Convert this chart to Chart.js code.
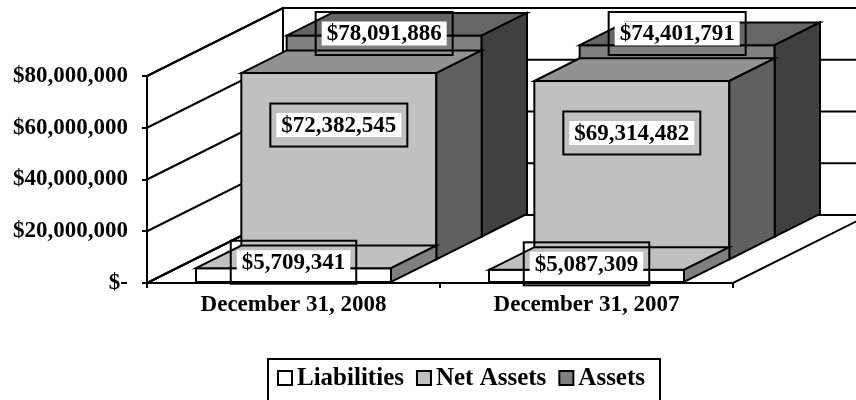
<!DOCTYPE html>
<html>
<head>
<meta charset="utf-8">
<script src="https://cdn.jsdelivr.net/npm/chart.js@4.4.0/dist/chart.umd.min.js"></script>
<style>
  body { margin: 0; background: #fff; }
  canvas { display: block; }
</style>
</head>
<body>
<canvas id="myChart" width="856" height="400"></canvas>
<script>
const categories = ['December 31, 2008', 'December 31, 2007'];
const seriesNames = ['Liabilities', 'Net Assets', 'Assets'];
const liabilities = [5709341, 5087309];
const netAssets = [72382545, 69314482];
const assets = [78091886, 74401791];
const yTicks = [0, 20000000, 40000000, 60000000, 80000000];

const FONT = 'bold 23px "Liberation Serif", "Times New Roman", serif';
const LEGEND_FONT = 'bold 25px "Liberation Serif", "Times New Roman", serif';
const DEPTH = { dx: 136, dy: -68 };

// front, top, side shades for each series row
const shades = [
    ['#ffffff', '#c0c0c0', '#808080'],
    ['#c0c0c0', '#929292', '#606060'],
    ['#808080', '#666666', '#404040']
];
const labelShift = [-6, 52, -14];

function money(v) {
    return v === 0 ? '$-' : '$' + v.toLocaleString('en-US');
}

function poly(ctx, pts, fill) {
    ctx.beginPath();
    ctx.moveTo(pts[0][0], pts[0][1]);
    for (let i = 1; i < pts.length; i++) ctx.lineTo(pts[i][0], pts[i][1]);
    ctx.closePath();
    if (fill) {
        ctx.fillStyle = fill;
        ctx.fill();
    }
    ctx.stroke();
}

const excel3d = {
    id: 'excel3d',
    beforeDatasetsDraw(chart) {
        const { ctx, chartArea: a, scales: { y } } = chart;
        const dx = DEPTH.dx, dy = DEPTH.dy;
        ctx.save();
        ctx.strokeStyle = '#000';
        ctx.lineWidth = 2;
        // floor
        poly(ctx, [[a.left, a.bottom], [a.right, a.bottom], [a.right + dx, a.bottom + dy], [a.left + dx, a.bottom + dy]], '#fff');
        // side wall
        poly(ctx, [[a.left, a.bottom], [a.left, a.top], [a.left + dx, a.top + dy], [a.left + dx, a.bottom + dy]], '#fff');
        // back wall
        poly(ctx, [[a.left + dx, a.top + dy], [a.right + dx, a.top + dy], [a.right + dx, a.bottom + dy], [a.left + dx, a.bottom + dy]], '#fff');
        // gridlines
        yTicks.forEach(v => {
            const py = y.getPixelForValue(v);
            ctx.beginPath();
            ctx.moveTo(a.left, py);
            ctx.lineTo(a.left + dx, py + dy);
            ctx.lineTo(a.right + dx, py + dy);
            ctx.stroke();
        });
        // boxes, back row first
        const n = chart.data.datasets.length;
        for (let i = n - 1; i >= 0; i--) {
            const ox = dx * i / n, oy = dy * i / n;
            const bx = dx / n, by = dy / n;
            const [front, top, side] = shades[i];
            chart.getDatasetMeta(i).data.forEach(el => {
                const x0 = el.x - el.width / 2 + ox;
                const x1 = el.x + el.width / 2 + ox;
                const yt = el.y + oy;
                const yb = el.base + oy;
                poly(ctx, [[x0, yt], [x1, yt], [x1, yb], [x0, yb]], front);
                poly(ctx, [[x0, yt], [x0 + bx, yt + by], [x1 + bx, yt + by], [x1, yt]], top);
                poly(ctx, [[x1, yt], [x1 + bx, yt + by], [x1 + bx, yb + by], [x1, yb]], side);
            });
        }
        ctx.restore();
    },
    afterDatasetsDraw(chart) {
        const { ctx, chartArea: a } = chart;
        const n = chart.data.datasets.length;
        const minTop = a.top + DEPTH.dy + 4;
        ctx.save();
        ctx.font = FONT;
        ctx.textAlign = 'center';
        ctx.textBaseline = 'middle';
        for (let i = n - 1; i >= 0; i--) {
            const ox = DEPTH.dx * i / n, oy = DEPTH.dy * i / n;
            const ds = chart.data.datasets[i];
            chart.getDatasetMeta(i).data.forEach((el, j) => {
                const txt = money(ds.data[j]);
                const tw = ctx.measureText(txt).width;
                const bw = tw + 22, bh = 43;
                const cx = el.x + ox;
                let cy = el.y + oy + labelShift[i];
                if (cy - bh / 2 < minTop) cy = minTop + bh / 2;
                ctx.fillStyle = '#fff';
                ctx.fillRect(cx - tw / 2 - 5, cy - 12, tw + 10, 24);
                ctx.strokeStyle = '#000';
                ctx.lineWidth = 2;
                ctx.strokeRect(cx - bw / 2, cy - bh / 2, bw, bh);
                ctx.fillStyle = '#000';
                ctx.fillText(txt, cx, cy + 1);
            });
        }
        ctx.restore();
    },
    afterDraw(chart) {
        const { ctx } = chart;
        ctx.save();
        ctx.font = LEGEND_FONT;
        ctx.textBaseline = 'middle';
        ctx.strokeStyle = '#000';
        ctx.lineWidth = 2;
        // legend box
        const x = 268, top = 359, midY = 378;
        let lx = x + 10;
        chart.data.datasets.forEach((ds, i) => {
            ctx.fillStyle = shades[i][0];
            ctx.fillRect(lx, midY - 7, 14, 14);
            ctx.strokeRect(lx, midY - 7, 14, 14);
            ctx.fillStyle = '#000';
            ctx.fillText(ds.label, lx + 19, midY + 1);
            lx += 19 + ctx.measureText(ds.label).width + 13;
        });
        ctx.strokeRect(x, top, lx - x + 2, 60);
        ctx.restore();
    }
};

new Chart(document.getElementById('myChart'), {
    type: 'bar',
    data: {
        labels: categories,
        datasets: [
            { label: seriesNames[0], data: liabilities },
            { label: seriesNames[1], data: netAssets },
            { label: seriesNames[2], data: assets }
        ]
    },
    options: {
        responsive: false,
        animation: false,
        events: [],
        grouped: false,
        categoryPercentage: 0.6655,
        barPercentage: 1,
        backgroundColor: 'rgba(0,0,0,0)',
        borderWidth: 0,
        layout: { padding: { left: 0, top: 76, right: 123, bottom: 77 } },
        plugins: {
            legend: { display: false },
            tooltip: { enabled: false }
        },
        scales: {
            x: {
                grid: { drawOnChartArea: false, tickLength: 5, color: '#000', lineWidth: 2, offset: true },
                border: { display: false },
                ticks: { color: '#000', font: { family: '"Liberation Serif"', size: 23, weight: 'bold' }, padding: 3, maxRotation: 0 },
                afterFit(s) { s.height = 40; }
            },
            y: {
                min: 0,
                max: 80000000,
                afterBuildTicks(s) { s.ticks = yTicks.map(v => ({ value: v })); },
                grid: { drawOnChartArea: false, tickLength: 5, color: '#000', lineWidth: 2 },
                border: { display: true, color: '#000', width: 2 },
                ticks: {
                    color: '#000',
                    font: { family: '"Liberation Serif"', size: 23, weight: 'bold' },
                    padding: 14,
                    callback: v => money(v)
                },
                afterFit(s) { s.width = 147; }
            }
        }
    },
    plugins: [excel3d]
});
</script>
</body>
</html>
